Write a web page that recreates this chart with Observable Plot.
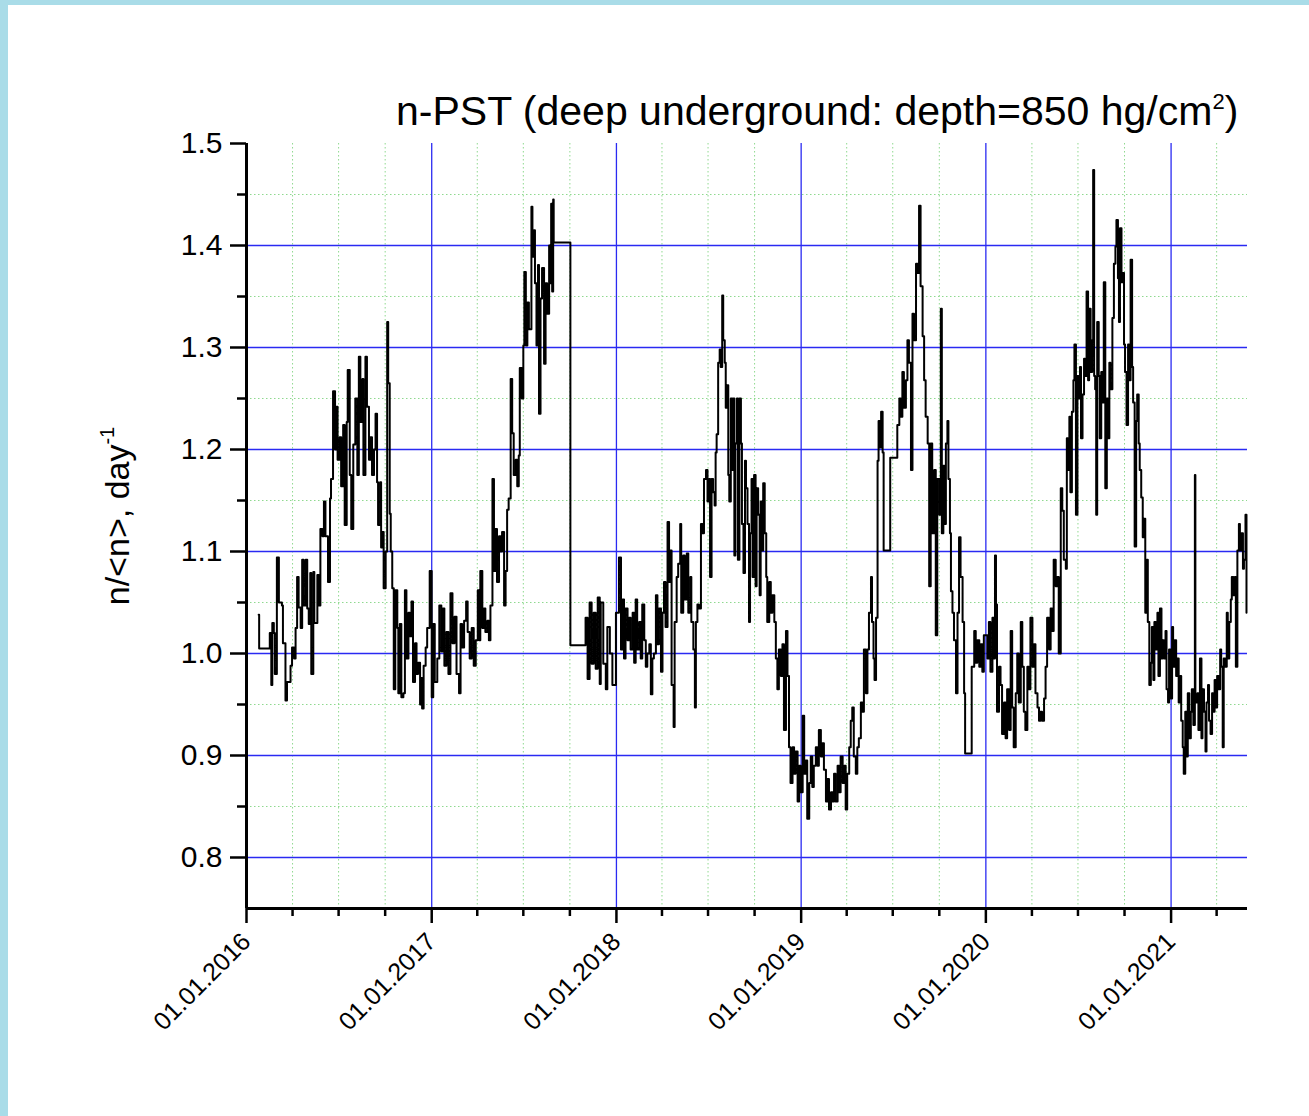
<!DOCTYPE html>
<html><head><meta charset="utf-8">
<script src="https://cdn.jsdelivr.net/npm/d3@7"></script>
<script src="https://cdn.jsdelivr.net/npm/@observablehq/plot@0.6"></script>
<style>
html,body{margin:0;padding:0;background:#fff;}
#wrap{position:relative;width:1309px;height:1116px;overflow:hidden;font-family:"Liberation Sans",Arial,sans-serif;background:#fff;}
#chart{position:absolute;left:0;top:0;}
#bl{position:absolute;left:0;top:0;width:8px;height:1116px;background:#a9dce8;}
#bt{position:absolute;left:0;top:0;width:1309px;height:5px;background:#a9dce8;}
#title{position:absolute;left:396px;top:91px;font-size:41px;line-height:40px;white-space:nowrap;color:#000;}
#title sup{font-size:22px;vertical-align:top;position:relative;top:-9px;}
</style></head><body>
<div id="wrap"><div id="chart"></div><div id="bl"></div><div id="bt"></div>
<div id="title">n-PST (deep underground: depth=850 hg/cm<sup>2</sup>)</div></div>
<script>
// readings: [days since 01.01.2016, n/<n>]
const originDate = "2016-01-01";
const endDate = "2021-06-01";
const series2016 = [[24,1.038],[25,1.005],[46,1.02],[49,0.969],[51,1.03],[54,1.02],[56,0.98],[60,1.094],[64,1.05],[70,1.047],[72,1.01],[77,0.954],[80,0.972],[87,0.988],[90,1.006],[94,0.995],[97,1.025],[100,1.075],[103,1.045],[107,1.025],[110,1.092],[113,1.047],[117,1.092],[120,1.044],[123,1.029],[126,1.079],[128,0.98],[132,1.08],[134,1.03],[140,1.077],[143,1.047],[146,1.122],[150,1.115],[153,1.149],[156,1.115],[161,1.07],[165,1.152],[167,1.171],[171,1.257],[175,1.20],[178,1.242],[180,1.19],[184,1.212],[187,1.164],[191,1.224],[194,1.126],[198,1.227],[200,1.278],[204,1.175],[207,1.122],[211,1.205],[215,1.25],[219,1.175],[222,1.291],[225,1.227],[229,1.269],[231,1.175],[235,1.291],[238,1.242],[242,1.19],[245,1.212],[248,1.175],[252,1.20],[255,1.235],[258,1.168],[260,1.126],[264,1.168],[266,1.104],[269,1.119],[271,1.064],[275,1.10],[278,1.325],[280,1.265],[283,1.137],[285,1.10],[288,1.064],[291,0.965],[294,1.062],[298,1.025],[300,0.961],[303,1.029],[306,0.957],[310,0.961],[313,1.062],[316,0.995],[320,1.04],[323,1.017],[326,1.051],[329,0.972],[333,1.01],[336,0.98],[339,0.991],[343,0.95],[345,0.976],[347,0.946],[350,0.988],[354,1.006],[357,1.025],[362,1.081]];
const series2017 = [[366,0.957],[369,1.029],[372,0.972],[377,0.995],[381,1.047],[385,1.002],[388,1.044],[391,0.988],[395,1.021],[399,0.98],[403,1.059],[407,1.01],[411,1.036],[415,0.98],[420,0.961],[423,1.029],[426,1.006],[430,1.032],[434,1.051],[437,1.021],[441,0.995],[445,1.025],[449,0.988],[453,1.013],[457,1.062],[460,1.013],[462,1.081],[466,1.025],[469,1.044],[472,1.021],[476,1.032],[479,1.013],[482,1.047],[486,1.171],[489,1.081],[492,1.122],[495,1.07],[499,1.115],[502,1.10],[505,1.119],[509,1.047],[512,1.081],[515,1.141],[518,1.152],[522,1.269],[525,1.216],[528,1.175],[532,1.19],[535,1.164],[538,1.194],[540,1.28],[544,1.25],[547,1.302],[549,1.374],[552,1.302],[555,1.344],[558,1.318],[563,1.438],[565,1.389],[568,1.415],[570,1.363],[573,1.302],[576,1.381],[578,1.235],[581,1.348],[584,1.378],[588,1.284],[591,1.363],[594,1.333],[598,1.40],[600,1.363],[602,1.441],[604,1.355],[606,1.445],[607,1.403],[640,1.008],[670,1.035],[674,0.975],[678,1.05],[682,0.99],[686,1.04],[690,0.985],[694,1.055],[698,0.97],[700,1.05],[705,0.99],[710,0.965],[713,1.026],[718,1.0],[723,0.969],[730,1.04]];
const series2018 = [[736,1.094],[740,1.004],[743,1.053],[746,0.995],[749,1.044],[753,1.013],[756,1.035],[759,1.004],[763,1.04],[766,0.991],[769,1.053],[772,1.004],[776,1.031],[779,0.995],[782,1.048],[786,1.013],[789,0.987],[792,1.0],[796,1.009],[799,0.96],[802,0.995],[805,1.0],[809,1.057],[812,1.009],[815,1.044],[819,0.982],[822,1.04],[825,1.07],[828,1.026],[832,1.129],[835,1.07],[837,1.101],[840,0.969],[844,0.928],[846,1.031],[850,1.075],[853,1.088],[857,1.127],[859,1.04],[863,1.096],[866,1.053],[870,1.098],[873,1.04],[877,1.075],[879,1.031],[883,1.004],[886,0.947],[888,1.031],[891,1.048],[894,1.044],[898,1.127],[901,1.118],[904,1.171],[908,1.18],[911,1.149],[914,1.171],[916,1.075],[919,1.171],[922,1.158],[925,1.145],[927,1.197],[929,1.215],[932,1.285],[935,1.298],[937,1.281],[940,1.351],[942,1.307],[945,1.285],[947,1.241],[949,1.263],[952,1.175],[954,1.149],[957,1.25],[960,1.18],[962,1.25],[964,1.096],[966,1.206],[969,1.25],[971,1.092],[974,1.25],[977,1.206],[979,1.127],[982,1.079],[985,1.189],[987,1.162],[990,1.127],[993,1.031],[995,1.118],[998,1.171],[1000,1.075],[1003,1.175],[1006,1.066],[1008,1.162],[1011,1.136],[1014,1.057],[1016,1.149],[1019,1.101],[1021,1.167],[1024,1.118],[1027,1.075],[1029,1.031],[1033,1.07],[1036,1.04],[1039,1.057],[1043,1.031],[1046,0.995],[1049,0.965],[1052,1.004],[1056,0.978],[1059,1.009],[1062,0.925],[1066,1.022],[1069,0.978],[1072,0.908],[1075,0.873],[1079,0.908],[1082,0.882],[1085,0.904],[1089,0.855],[1092,0.89]];
const series2019 = [[1095,0.864],[1099,0.939],[1102,0.882],[1105,0.895],[1108,0.838],[1112,0.873],[1115,0.899],[1118,0.869],[1121,0.89],[1125,0.908],[1128,0.89],[1131,0.925],[1135,0.899],[1138,0.912],[1141,0.886],[1145,0.855],[1148,0.877],[1151,0.847],[1155,0.864],[1158,0.855],[1161,0.882],[1164,0.855],[1168,0.89],[1171,0.864],[1174,0.899],[1178,0.873],[1181,0.89],[1184,0.847],[1187,0.882],[1191,0.908],[1194,0.934],[1197,0.947],[1200,0.899],[1204,0.882],[1207,0.908],[1210,0.917],[1214,0.952],[1217,0.943],[1220,1.004],[1224,0.961],[1227,1.004],[1230,1.04],[1234,1.075],[1236,1.031],[1239,0.995],[1241,0.974],[1244,1.035],[1247,1.189],[1249,1.228],[1252,1.202],[1254,1.237],[1257,1.197],[1259,1.101],[1272,1.192],[1286,1.224],[1290,1.25],[1293,1.232],[1296,1.276],[1299,1.241],[1303,1.268],[1306,1.307],[1309,1.285],[1313,1.18],[1316,1.333],[1319,1.307],[1323,1.382],[1326,1.373],[1329,1.439],[1332,1.36],[1336,1.311],[1339,1.268],[1342,1.232],[1346,1.206],[1349,1.066],[1352,1.206],[1355,1.118],[1359,1.18],[1362,1.018],[1365,1.171],[1369,1.136],[1372,1.338],[1374,1.118],[1377,1.184],[1379,1.127],[1382,1.206],[1385,1.228],[1387,1.171],[1390,1.118],[1392,1.061],[1395,1.04],[1398,1.013],[1402,0.961],[1405,1.04],[1408,1.114],[1411,1.075],[1415,1.031],[1418,0.961],[1420,0.902],[1433,0.987],[1438,1.022],[1441,0.991],[1444,1.013],[1448,0.987],[1451,1.009],[1454,0.982],[1457,1.018]];
const series2020 = [[1460,1.018],[1464,0.995],[1467,1.031],[1470,0.982],[1474,1.035],[1477,0.995],[1479,1.096],[1481,1.048],[1483,0.943],[1487,0.987],[1490,0.969],[1493,0.921],[1497,0.952],[1500,0.917],[1503,0.965],[1507,0.925],[1510,1.022],[1513,0.947],[1516,0.908],[1520,0.961],[1523,1.0],[1526,0.952],[1530,1.031],[1533,0.987],[1536,0.943],[1539,0.925],[1543,0.987],[1546,0.965],[1549,1.035],[1553,0.987],[1556,1.009],[1559,0.961],[1563,0.947],[1566,0.934],[1569,0.943],[1572,0.934],[1576,0.956],[1579,0.987],[1582,1.035],[1586,1.004],[1589,1.044],[1592,1.022],[1595,1.092],[1599,1.066],[1602,1.075],[1605,1.0],[1609,1.162],[1612,1.14],[1615,1.092],[1619,1.083],[1621,1.211],[1623,1.18],[1626,1.232],[1628,1.158],[1631,1.237],[1634,1.268],[1636,1.303],[1639,1.136],[1642,1.272],[1644,1.25],[1647,1.281],[1649,1.211],[1652,1.254],[1655,1.289],[1657,1.272],[1660,1.355],[1663,1.268],[1665,1.338],[1668,1.276],[1671,1.307],[1673,1.474],[1675,1.272],[1677,1.259],[1679,1.136],[1681,1.325],[1684,1.272],[1686,1.211],[1689,1.276],[1692,1.246],[1694,1.364],[1697,1.162],[1700,1.25],[1702,1.211],[1705,1.285],[1707,1.259],[1711,1.329],[1714,1.382],[1717,1.399],[1719,1.425],[1722,1.368],[1724,1.325],[1726,1.417],[1729,1.364],[1731,1.373],[1734,1.303],[1736,1.276],[1739,1.224],[1742,1.303],[1744,1.268],[1747,1.386],[1750,1.281],[1752,1.246],[1755,1.105],[1758,1.228],[1760,1.254],[1763,1.206],[1765,1.18],[1768,1.153],[1771,1.114],[1773,1.132],[1776,1.04],[1779,1.092],[1781,1.031],[1784,0.969],[1787,0.991],[1789,1.026],[1792,0.974],[1794,1.031],[1797,1.004],[1800,1.04],[1802,0.978],[1805,1.044],[1808,0.995],[1810,1.013],[1813,0.995],[1816,1.022],[1818,0.965],[1821,0.952],[1823,1.004]];
const series2021 = [[1826,0.956],[1829,1.026],[1831,0.987],[1834,1.013],[1837,0.978],[1839,0.995],[1842,0.952],[1845,0.978],[1847,0.934],[1850,0.908],[1852,0.882],[1855,0.943],[1858,0.899],[1860,0.961],[1863,0.917],[1866,0.943],[1868,0.965],[1871,0.93],[1874,1.175],[1875,0.952],[1879,0.961],[1881,0.925],[1884,0.995],[1887,0.917],[1889,0.965],[1892,0.943],[1895,0.904],[1897,0.952],[1900,0.969],[1902,0.934],[1905,0.921],[1908,0.961],[1910,0.943],[1913,0.974],[1916,0.947],[1918,0.978],[1921,0.965],[1924,1.004],[1926,0.987],[1929,0.908],[1931,0.995],[1934,0.987],[1937,1.04],[1939,0.995],[1942,1.031],[1945,1.053],[1947,1.075],[1950,1.057],[1953,1.075],[1955,0.987],[1958,1.101],[1961,1.127],[1963,1.101],[1966,1.118],[1969,1.083],[1971,1.092],[1974,1.136],[1976,1.04]];

const yMajorTicks = [0.8, 0.9, 1.0, 1.1, 1.2, 1.3, 1.4, 1.5];
const yMinorTicks = [0.85, 0.95, 1.05, 1.15, 1.25, 1.35, 1.45];
const yGridLines = [0.8, 0.9, 1.0, 1.1, 1.2, 1.3, 1.4];
const xMajorDates = ["2016-01-01","2017-01-01","2018-01-01","2019-01-01","2020-01-01","2021-01-01"];
const xTickLabels = ["01.01.2016","01.01.2017","01.01.2018","01.01.2019","01.01.2020","01.01.2021"];
const xGridDates = ["2017-01-01","2018-01-01","2019-01-01","2020-01-01","2021-01-01"];
const xMinorDates = ["2016-04-01","2016-07-01","2016-10-01","2017-04-01","2017-07-01","2017-10-01","2018-04-01","2018-07-01","2018-10-01","2019-04-01","2019-07-01","2019-10-01","2020-04-01","2020-07-01","2020-10-01","2021-04-01"];

const t0 = new Date(originDate);
const data = [series2016, series2017, series2018, series2019, series2020, series2021]
  .flat().map(([d, v]) => ({date: d3.utcDay.offset(t0, d), value: v}));
const majorDates = xMajorDates.map(s => new Date(s));
const labelFor = d => xTickLabels[majorDates.findIndex(m => +m === +d)];

const blue = "#2a2af2", green = "#8fd98f";
const font = '"Liberation Sans", Arial, sans-serif';

const chart = Plot.plot({
  width: 1309, height: 1116,
  marginLeft: 246, marginRight: 62, marginTop: 143, marginBottom: 208,
  x: {type: "utc", domain: [t0, new Date(endDate)]},
  y: {domain: [0.75, 1.5]},
  style: {fontFamily: font, background: "transparent", color: "#000", overflow: "visible"},
  marks: [
    Plot.ruleY(yMinorTicks, {stroke: green, strokeWidth: 1, strokeDasharray: "1.5,2.5"}),
    Plot.ruleX(xMinorDates.map(s => new Date(s)), {stroke: green, strokeWidth: 1, strokeDasharray: "1.5,2.5"}),
    Plot.ruleY(yGridLines, {stroke: blue, strokeWidth: 1.3, strokeOpacity: 1}),
    Plot.ruleX(xGridDates.map(s => new Date(s)), {stroke: blue, strokeWidth: 1.3}),
    Plot.line(data, {x: "date", y: "value", curve: "step-after", stroke: "#000", strokeWidth: 2}),
    Plot.ruleX([t0], {stroke: "#000", strokeWidth: 3}),
    Plot.ruleY([0.75], {stroke: "#000", strokeWidth: 3}),
    Plot.axisY(yMajorTicks, {tickSize: 16, tickPadding: 8, fontSize: 30, strokeWidth: 2.5, tickFormat: d => d.toFixed(1), label: null}),
    Plot.axisY(yMinorTicks, {tickSize: 9, strokeWidth: 2.5, tickFormat: () => "", label: null}),
    Plot.axisX(majorDates, {tickSize: 15, tickPadding: 14, tickRotate: -45, fontSize: 25, strokeWidth: 2.5, tickFormat: labelFor, label: null}),
    Plot.axisX(xMinorDates.map(s => new Date(s)), {tickSize: 8, strokeWidth: 2.5, tickFormat: () => "", label: null})
  ]
});
document.getElementById("chart").appendChild(chart);

// y-axis label
const yl = d3.select(chart).append("text")
  .attr("transform", "translate(129,516) rotate(-90)")
  .attr("text-anchor", "middle")
  .attr("font-family", font).attr("font-size", 34).attr("fill", "#000");
yl.append("tspan").text("n/<n>, day");
yl.append("tspan").attr("font-size", 20).attr("dy", -15).text("-1");
</script>
</body></html>
